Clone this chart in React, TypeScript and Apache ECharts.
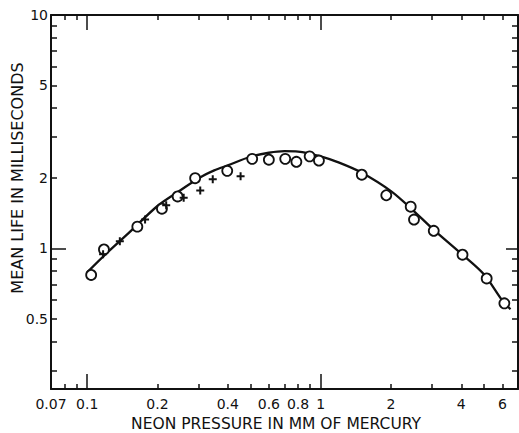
import React, { useEffect, useRef } from "react";
import * as echarts from "echarts";

// Fitted curve
const curveX = [0.1, 0.12, 0.15, 0.2, 0.25, 0.3, 0.35, 0.4, 0.5, 0.6, 0.7, 0.8, 1.0, 1.2, 1.5, 2, 2.5, 3, 4, 5, 6, 6.5];
const curveY = [0.79, 0.945, 1.16, 1.52, 1.77, 2.0, 2.16, 2.27, 2.47, 2.57, 2.61, 2.6, 2.48, 2.33, 2.11, 1.76, 1.45, 1.22, 0.95, 0.775, 0.598, 0.549];

// Open circles
const circleX = [0.104, 0.118, 0.164, 0.209, 0.244, 0.29, 0.398, 0.509, 0.6, 0.705, 0.787, 0.897, 0.983, 1.5, 1.91, 2.43, 2.51, 3.05, 4.05, 5.14, 6.12];
const circleY = [0.77, 0.99, 1.24, 1.48, 1.67, 2.0, 2.15, 2.42, 2.4, 2.42, 2.35, 2.48, 2.38, 2.07, 1.69, 1.51, 1.33, 1.19, 0.94, 0.744, 0.582];

// Crosses
const plusX = [0.117, 0.138, 0.177, 0.218, 0.259, 0.305, 0.345, 0.454];
const plusY = [0.945, 1.074, 1.33, 1.53, 1.65, 1.77, 1.98, 2.04];

// Axis ticks / labels
const xMinorTicks = [0.08, 0.09, 0.2, 0.3, 0.4, 0.5, 0.6, 0.7, 0.8, 0.9, 2, 3, 4, 5, 6];
const xMajorTicks = [0.1, 1];
const xLabels = [0.07, 0.1, 0.2, 0.4, 0.6, 0.8, 1, 2, 4, 6];
const yMinorTicks = [0.3, 0.4, 0.5, 0.6, 0.7, 0.8, 0.9, 2, 3, 4, 5, 6, 7, 8, 9];
const yMajorTicks = [1];
const yLabels = [0.5, 1, 2, 5, 10];

const X_MIN = 0.07, X_MAX = 7, Y_MIN = 0.25, Y_MAX = 10;
const FONT = "DejaVu Sans";
const INK = "#111";

const fmt = (v: number) => String(Math.round(v * 100) / 100);

export default function App() {
  const ref = useRef<HTMLDivElement>(null);
  useEffect(() => {
    if (!ref.current) return;
    const chart = echarts.init(ref.current, undefined, { renderer: "svg" });
    const lineStyle = { color: INK, width: 2 };
    const mkX = (position: string, ticks: number[], len: number, labels: number[] | null, showLine: boolean) => ({
      type: "log",
      logBase: 10,
      position,
      min: X_MIN,
      max: X_MAX,
      axisLine: { show: showLine, onZero: false, lineStyle },
      axisTick: { show: true, inside: true, length: len, customValues: ticks, lineStyle: { color: INK, width: 1.5 } },
      axisLabel: labels
        ? { show: true, customValues: labels, formatter: fmt, color: INK, fontFamily: FONT, fontSize: 14, margin: 8 }
        : { show: false },
      splitLine: { show: false },
      minorTick: { show: false },
    });
    const mkY = (position: string, ticks: number[], len: number, labels: number[] | null, showLine: boolean) => ({
      type: "log",
      logBase: 10,
      position,
      min: Y_MIN,
      max: Y_MAX,
      axisLine: { show: showLine, onZero: false, lineStyle },
      axisTick: { show: true, inside: true, length: len, customValues: ticks, lineStyle: { color: INK, width: 1.5 } },
      axisLabel: labels
        ? { show: true, customValues: labels, formatter: fmt, color: INK, fontFamily: FONT, fontSize: 14, margin: 3 }
        : { show: false },
      splitLine: { show: false },
      minorTick: { show: false },
    });
    const plusPath = "path://M3,0h2v3h3v2h-3v3h-2v-3h-3v-2h3z";
    chart.setOption({
      animation: false,
      backgroundColor: "#fff",
      grid: { left: 51, right: 1, top: 15, bottom: 44, containLabel: false },
      xAxis: [
        mkX("bottom", xMinorTicks, 5, xLabels, true),
        mkX("bottom", xMajorTicks, 15, null, false),
        mkX("top", xMinorTicks, 5, null, true),
        mkX("top", xMajorTicks, 15, null, false),
      ],
      yAxis: [
        mkY("left", yMinorTicks, 6, yLabels, true),
        mkY("left", yMajorTicks, 15, null, false),
        mkY("right", yMinorTicks, 6, null, true),
        mkY("right", yMajorTicks, 12, null, false),
      ],
      series: [
        {
          type: "line",
          xAxisIndex: 0,
          yAxisIndex: 0,
          data: curveX.map((x, i) => [x, curveY[i]]),
          smooth: 0.3,
          showSymbol: false,
          symbol: "none",
          lineStyle: { color: INK, width: 2.3 },
          z: 2,
        },
        {
          type: "scatter",
          xAxisIndex: 0,
          yAxisIndex: 0,
          data: circleX.map((x, i) => [x, circleY[i]]),
          symbol: "circle",
          symbolSize: 10,
          itemStyle: { color: "#fff", borderColor: INK, borderWidth: 1.8, opacity: 1 },
          z: 3,
        },
        {
          type: "scatter",
          xAxisIndex: 0,
          yAxisIndex: 0,
          data: plusX.map((x, i) => [x, plusY[i]]),
          symbol: plusPath,
          symbolSize: 8,
          itemStyle: { color: INK, opacity: 1 },
          z: 4,
        },
      ],
      graphic: [
        {
          type: "text",
          x: 276,
          y: 424,
          style: {
            text: "NEON PRESSURE IN MM OF MERCURY",
            fill: INK,
            font: `15.5px "${FONT}"`,
            align: "center",
            verticalAlign: "middle",
          },
        },
        {
          type: "text",
          x: 17,
          y: 178,
          rotation: Math.PI / 2,
          style: {
            text: "MEAN LIFE IN MILLISECONDS",
            fill: INK,
            font: `16px "${FONT}"`,
            align: "center",
            verticalAlign: "middle",
          },
        },
      ],
    });
    return () => chart.dispose();
  }, []);
  return (
    <div
      ref={ref}
      style={{ position: "fixed", left: 0, top: 0, width: 519, height: 433, background: "#fff" }}
    />
  );
}
